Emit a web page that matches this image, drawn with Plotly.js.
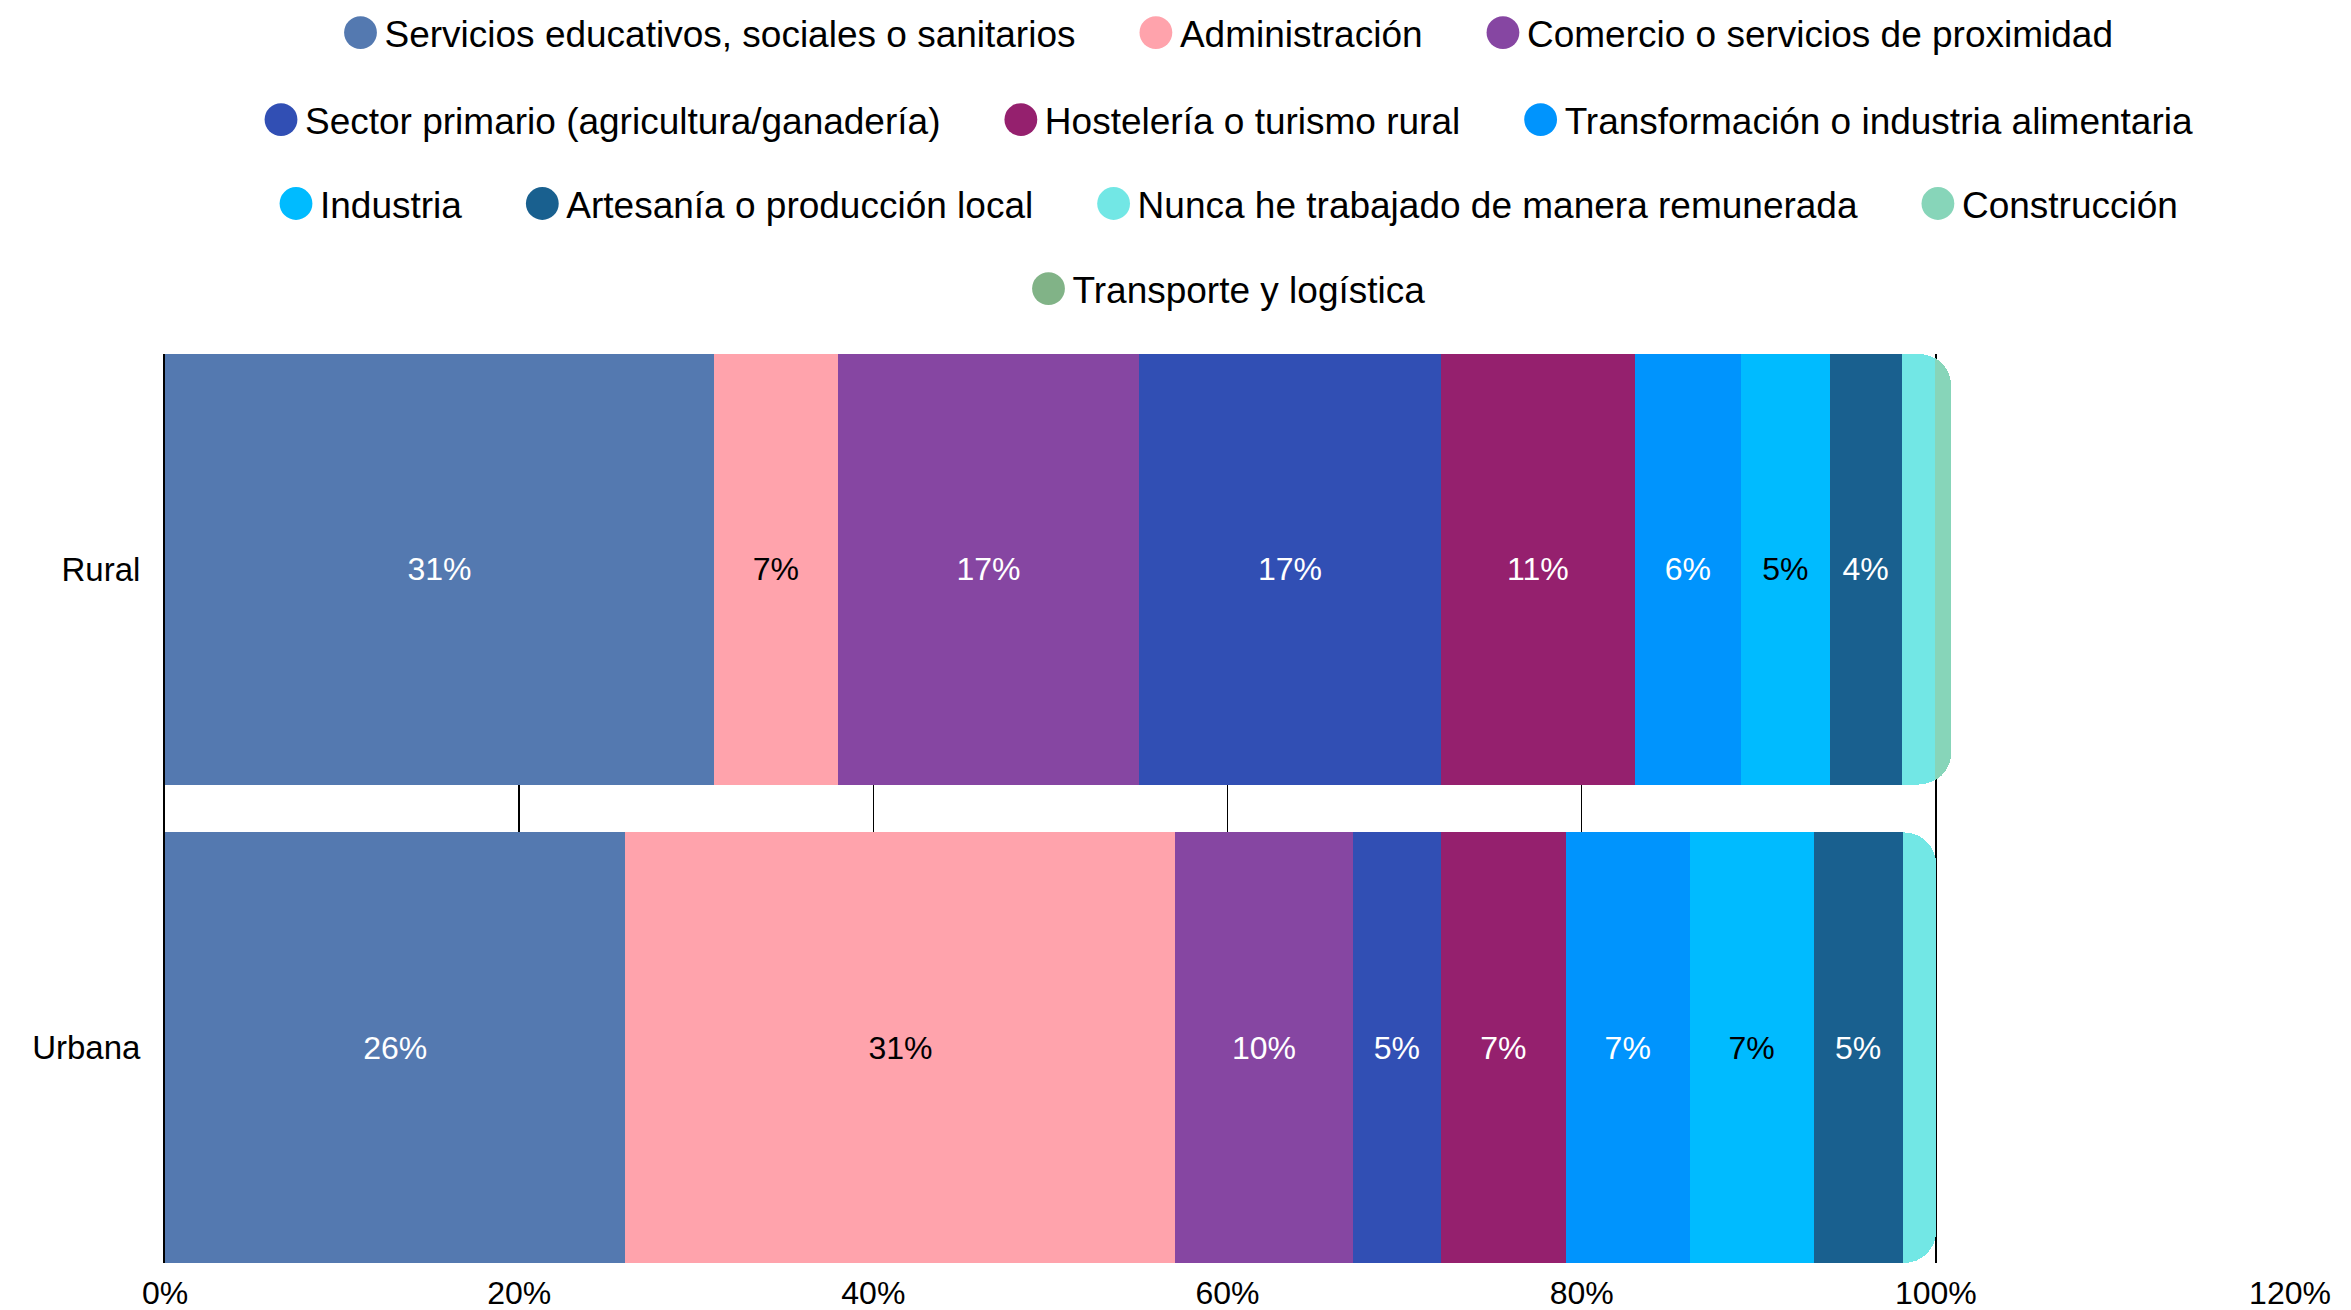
<!DOCTYPE html>
<html>
<head>
<meta charset="utf-8">
<script src="https://cdn.plot.ly/plotly-3.0.1.min.js"></script>
<style>
html, body { margin: 0; padding: 0; background: #ffffff; }
#chart { width: 2351px; height: 1310px; }
</style>
</head>
<body>
<div id="chart"></div>
<script>
// ---- data ----
const categories = ['Rural', 'Urbana'];
const sectors = [
  'Servicios educativos, sociales o sanitarios',
  'Administración',
  'Comercio o servicios de proximidad',
  'Sector primario (agricultura/ganadería)',
  'Hostelería o turismo rural',
  'Transformación o industria alimentaria',
  'Industria',
  'Artesanía o producción local',
  'Nunca he trabajado de manera remunerada',
  'Construcción',
  'Transporte y logística'
];
const ruralValues  = [0.310, 0.070, 0.170, 0.1705, 0.1095, 0.060, 0.050, 0.0407, 0.019, 0.009, 0];
const urbanaValues = [0.260, 0.3106, 0.100, 0.050, 0.0704, 0.070, 0.070, 0.0503, 0.0189, 0, 0];

// ---- styles ----
const colors = ['#5479b0', '#ffa3ac', '#8646a2', '#314fb4', '#95206e', '#0094fd',
                '#00bbff', '#19608f', '#72e7e5', '#87d5b9', '#81b387'];
const labelColors = ['#ffffff', '#000000', '#ffffff', '#ffffff', '#ffffff', '#ffffff',
                     '#000000', '#ffffff', '#ffffff', '#ffffff', '#ffffff'];
const legendRow = ['legend', 'legend', 'legend', 'legend2', 'legend2', 'legend2',
                   'legend3', 'legend3', 'legend3', 'legend3', 'legend4'];
const lastInRow = [false, false, true, false, false, true, false, false, false, true, true];

const fmt = v => (v >= 0.03 ? Math.round(v * 100) + '%' : '');

const data = [];
sectors.forEach((name, i) => {
  const xs = [ruralValues[i], urbanaValues[i]];
  data.push({
    type: 'bar',
    orientation: 'h',
    name: name,
    y: categories,
    x: xs,
    text: xs.map(fmt),
    textposition: 'inside',
    insidetextanchor: 'middle',
    textangle: 0,
    insidetextfont: { size: 32, color: labelColors[i], family: 'Liberation Sans, Arial, sans-serif' },
    marker: { color: colors[i], line: { width: 0 } },
    showlegend: false,
    hoverinfo: 'skip'
  });
});
sectors.forEach((name, i) => {
  data.push({
    type: 'scatter',
    mode: 'markers',
    x: [null],
    y: [null],
    name: lastInRow[i] ? name : name + '\u00A0\u00A0\u00A0\u00A0\u00A0',
    marker: { color: colors[i], size: 16, symbol: 'circle' },
    legend: legendRow[i],
    showlegend: true,
    hoverinfo: 'skip'
  });
});

const legendBase = {
  orientation: 'h',
  traceorder: 'normal',
  itemwidth: 38,
  x: 0.5, xref: 'paper', xanchor: 'center',
  yref: 'container', yanchor: 'middle',
  font: { size: 37, color: '#000000', family: 'Liberation Sans, Arial, sans-serif' },
  bgcolor: 'rgba(0,0,0,0)',
  borderwidth: 0
};

const layout = {
  width: 2351,
  height: 1310,
  margin: { l: 165, r: 61, t: 354, b: 47, pad: 0 },
  paper_bgcolor: '#ffffff',
  plot_bgcolor: '#ffffff',
  barmode: 'stack',
  bargap: 0.1,
  barcornerradius: 32,
  font: { family: 'Liberation Sans, Arial, sans-serif', size: 32, color: '#000000' },
  showlegend: true,
  xaxis: {
    range: [0, 1.2],
    tick0: 0,
    dtick: 0.2,
    tickformat: '.0%',
    showgrid: true,
    gridcolor: '#000000',
    gridwidth: 1.5,
    zeroline: false,
    showline: false,
    ticks: '',
    ticklabelstandoff: 8,
    tickfont: { size: 32, color: '#000000' }
  },
  yaxis: {
    type: 'category',
    categoryorder: 'array',
    categoryarray: ['Urbana', 'Rural'],
    range: [-0.45, 1.45],
    showgrid: false,
    zeroline: false,
    showline: true,
    linecolor: '#000000',
    linewidth: 2,
    ticks: '',
    ticklabelstandoff: 16,
    tickfont: { size: 33, color: '#000000' }
  },
  legend:  Object.assign({}, legendBase, { y: 0.9748 }),
  legend2: Object.assign({}, legendBase, { y: 0.9084 }),
  legend3: Object.assign({}, legendBase, { y: 0.8443 }),
  legend4: Object.assign({}, legendBase, { y: 0.7794 })
};

Plotly.newPlot('chart', data, layout, { staticPlot: true, displayModeBar: false }).then(gd => {
  gd.querySelectorAll('.legendpoints path.scatterpts').forEach(p => {
    const t = p.getAttribute('transform') || '';
    p.setAttribute('transform', t + ' scale(2.05)');
  });
});
</script>
</body>
</html>
